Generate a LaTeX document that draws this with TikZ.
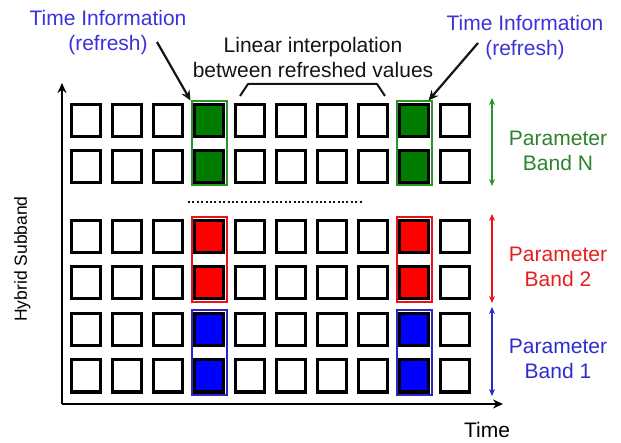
\documentclass[tikz,border=0pt]{standalone}
\usepackage{fontspec}
\setmainfont{Liberation Sans}
\usetikzlibrary{arrows.meta,fit}
\definecolor{gfill}{RGB}{0,125,0}
\definecolor{gline}{RGB}{40,150,40}
\definecolor{gtext}{RGB}{45,130,45}
\definecolor{rfill}{RGB}{255,0,0}
\definecolor{rline}{RGB}{235,20,20}
\definecolor{rtext}{RGB}{230,30,30}
\definecolor{bfill}{RGB}{0,0,255}
\definecolor{bline}{RGB}{40,40,205}
\definecolor{btext}{RGB}{45,45,205}
\definecolor{ttext}{RGB}{60,50,220}
\definecolor{ink}{RGB}{20,20,20}
\tikzset{
  cell/.style={draw=black, line width=3pt, minimum width=29pt, minimum height=32pt,
    inner sep=0pt, outer sep=0pt, fill=white},
  frame/.style={draw=#1, line width=2pt, inner sep=3pt, fill=none},
  lbl/.style={font=\fontsize{21}{25}\selectfont, inner sep=0pt, align=center},
  bandarrow/.style={line width=1.6pt, {Stealth[length=7pt,width=6pt]}-{Stealth[length=7pt,width=6pt]}},
  axis/.style={line width=2.5pt, -{Stealth[length=10pt,width=9pt]}},
  pointer/.style={line width=2.2pt, ink, -{Stealth[length=10pt,width=9pt]}},
}
\begin{document}
\begin{tikzpicture}[x=1pt,y=-1pt]
\useasboundingbox (0,0) rectangle (621,443);

% grid of time slots: 6 subband rows x 10 time columns
\foreach \r/\yy in {1/120.5,2/166.5,3/236.5,4/283,5/329.5,6/376}{
  \foreach \c in {1,...,10}{
    \node[cell] (c-\r-\c) at ({86+41*(\c-1)},\yy) {};
  }
}
% refreshed slots
\foreach \c in {4,9}{
  \foreach \r in {1,2}{\node[cell, fill=gfill] at (c-\r-\c) {};}
  \foreach \r in {3,4}{\node[cell, fill=rfill] at (c-\r-\c) {};}
  \foreach \r in {5,6}{\node[cell, fill=bfill] at (c-\r-\c) {};}
  \node[frame=gline, fit=(c-1-\c)(c-2-\c)] (gN-\c) {};
  \node[frame=rline, fit=(c-3-\c)(c-4-\c)] (r2-\c) {};
  \node[frame=bline, fit=(c-5-\c)(c-6-\c)] (b1-\c) {};
}

% axes
\coordinate (o) at (62,404);
\coordinate (ytop) at (62,83);
\coordinate (xend) at (503,404);
\draw[axis] (o) -- (ytop);
\draw[axis] (o) -- (xend);
\node[lbl, anchor=base] (tlab) at (487,437) {Time};
\node[font=\fontsize{17.5}{20}\selectfont, rotate=90, anchor=base, inner sep=0pt] (ylab) at (27,259) {Hybrid Subband};

% omitted bands
\coordinate (d1) at (188,202);
\coordinate (d2) at (362,202);
\draw[ink, line width=2pt, dash pattern=on 2pt off 2.4pt] (d1) -- (d2);

% parameter band extents
\coordinate (gA) at (492,98);  \coordinate (gB) at (492,186);
\coordinate (rA) at (492,214); \coordinate (rB) at (492,303);
\coordinate (bA) at (492,307); \coordinate (bB) at (492,396);
\draw[bandarrow, gline] (gA) -- (gB);
\draw[bandarrow, rline] (rA) -- (rB);
\draw[bandarrow, bline] (bA) -- (bB);
\node[lbl, text=gtext] (pN) at (558,151) {Parameter\\Band N};
\node[lbl, text=rtext] (p2) at (558,267) {Parameter\\Band 2};
\node[lbl, text=btext] (p1) at (558,359) {Parameter\\Band 1};

% labels on top
\node[lbl, text=ttext] (tiL) at (108,33) {Time Information\\(refresh)};
\node[lbl, text=ttext] (tiR) at (525,38) {Time Information\\(refresh)};
\node[lbl, text=ink] (lin) at (313,57) {Linear interpolation\\between refreshed values};

\coordinate (aL1) at (157,42);
\coordinate (aR1) at (478,43);
\draw[pointer] (aL1) -- (gN-4.north west);
\draw[pointer] (aR1) -- ([xshift=-4pt]gN-9.north east);

% bracket spanning the interpolated slots
\coordinate (k1) at (240,96);
\coordinate (k2) at (248,84);
\coordinate (k3) at (377,84);
\coordinate (k4) at (385,96);
\draw[ink, line width=2pt, line join=round] (k1) -- (k2) -- (k3) -- (k4);
\end{tikzpicture}
\end{document}
